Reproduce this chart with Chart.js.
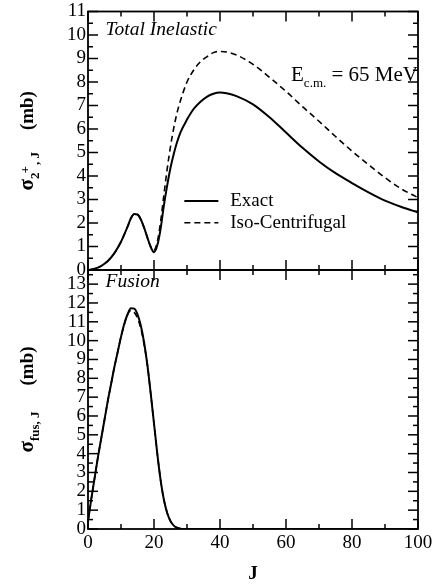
<!DOCTYPE html>
<html>
<head>
<meta charset="utf-8">
<script src="https://cdn.jsdelivr.net/npm/chart.js@4.4.1/dist/chart.umd.min.js"></script>
<style>
  html, body { margin: 0; background: #fff; }
  #wrap { position: relative; width: 439px; height: 586px; }
  #wrap canvas { position: absolute; left: 0; top: 0; }
</style>
</head>
<body>
<div id="wrap">
  <canvas id="inel" width="439" height="586"></canvas>
  <canvas id="fus" width="439" height="586"></canvas>
</div>
<script>
// total inelastic cross section per partial wave, E_cm = 65 MeV
const inelJ     = [0, 2, 4, 6, 8, 10, 12, 13, 14, 15, 16, 17, 18, 19, 20, 21, 22, 23, 24, 25, 26, 27, 28, 30, 32, 34, 36, 38, 40, 42, 45, 50, 55, 60, 65, 70, 75, 80, 85, 90, 95, 100];
const inelExact = [0, 0.05, 0.17, 0.38, 0.72, 1.2, 1.85, 2.2, 2.38, 2.36, 2.15, 1.8, 1.38, 0.98, 0.76, 1.05, 1.75, 2.75, 3.6, 4.35, 4.95, 5.45, 5.85, 6.4, 6.85, 7.15, 7.37, 7.5, 7.55, 7.52, 7.4, 7.05, 6.5, 5.85, 5.2, 4.62, 4.12, 3.7, 3.3, 2.95, 2.68, 2.45];
const inelIso   = [0, 0.05, 0.17, 0.38, 0.72, 1.2, 1.85, 2.2, 2.38, 2.36, 2.15, 1.8, 1.38, 1.0, 0.84, 1.2, 2.05, 3.2, 4.3, 5.25, 6.05, 6.7, 7.2, 8.0, 8.5, 8.85, 9.07, 9.25, 9.3, 9.28, 9.15, 8.75, 8.2, 7.6, 6.95, 6.33, 5.68, 5.06, 4.48, 3.93, 3.45, 3.08];

// fusion cross section per partial wave
const fusJ     = [0, 1, 2, 3, 4, 5, 6, 7, 8, 9, 10, 11, 12, 13, 14, 15, 16, 17, 18, 19, 20, 21, 22, 23, 24, 25, 26, 27, 28, 29, 30, 100];
const fusExact = [0.4, 1.6, 2.7, 3.8, 4.8, 5.8, 6.8, 7.7, 8.6, 9.4, 10.2, 10.9, 11.4, 11.72, 11.7, 11.4, 10.8, 9.9, 8.7, 7.2, 5.6, 4.0, 2.6, 1.55, 0.85, 0.42, 0.18, 0.07, 0.02, 0, 0, 0];
const fusIso   = [0.4, 1.6, 2.7, 3.8, 4.8, 5.8, 6.8, 7.7, 8.6, 9.4, 10.2, 10.85, 11.4, 11.6, 11.5, 11.2, 10.65, 9.8, 8.7, 7.2, 5.6, 4.0, 2.6, 1.55, 0.85, 0.42, 0.18, 0.07, 0.02, 0, 0, 0];

const xTicks = [0, 20, 40, 60, 80, 100];
const inelMax = 11;
const fusMax = 13.75;

const SERIF = '"Liberation Serif", "Times New Roman", serif';
const pts = (xs, ys) => xs.map((x, i) => ({ x, y: ys[i] }));

function lineSet(label, xs, ys, dashed) {
  return {
    label,
    data: pts(xs, ys),
    borderColor: '#000',
    borderWidth: dashed ? 1.6 : 2,
    borderDash: dashed ? [6, 4] : [],
    pointRadius: 0,
    fill: false,
    cubicInterpolationMode: 'monotone'
  };
}

// frame with inward ticks on all four sides
const frameTicks = {
  id: 'frameTicks',
  afterDatasetsDraw(chart) {
    const { ctx, chartArea: a, scales: { x, y } } = chart;
    const seg = (x1, y1, x2, y2) => { ctx.beginPath(); ctx.moveTo(x1, y1); ctx.lineTo(x2, y2); ctx.stroke(); };
    ctx.save();
    ctx.strokeStyle = '#000';
    ctx.lineWidth = 1.5;
    for (let v = x.min; v <= x.max + 1e-6; v += 10) {
      const px = x.getPixelForValue(v);
      const len = Math.abs(v % 20) < 1e-6 ? 10 : 5;
      seg(px, a.bottom, px, a.bottom - len);
      seg(px, a.top, px, a.top + len);
    }
    for (let v = 0; v <= y.max + 1e-6; v += 0.5) {
      const py = y.getPixelForValue(v);
      const len = Math.abs(v % 1) < 1e-6 ? 10 : 5;
      seg(a.left, py, a.left + len, py);
      seg(a.right, py, a.right - len, py);
    }
    ctx.lineWidth = 1.8;
    ctx.strokeRect(a.left, a.top, a.width, a.height);
    ctx.restore();
  }
};

// writes a run of text pieces, each with its own font and baseline shift
function runText(ctx, x, y, parts, align) {
  let total = 0;
  parts.forEach(p => { ctx.font = p.font; p.w = p.w != null ? p.w : ctx.measureText(p.t).width; total += p.w; });
  let cx = align === 'right' ? x - total : align === 'center' ? x - total / 2 : x;
  parts.forEach(p => {
    ctx.font = p.font;
    if (p.t) ctx.fillText(p.t, cx + (p.dx || 0), y + (p.dy || 0));
    cx += p.w;
  });
}

const notes = {
  id: 'notes',
  afterDraw(chart, args, opts) {
    const { ctx, chartArea: a, scales: { x, y } } = chart;
    ctx.save();
    ctx.fillStyle = '#000';
    ctx.strokeStyle = '#000';
    ctx.textBaseline = 'alphabetic';
    (opts.texts || []).forEach(t => {
      runText(ctx, x.getPixelForValue(t.x), y.getPixelForValue(t.y), t.parts, t.align);
    });
    (opts.keys || []).forEach(k => {
      const py = y.getPixelForValue(k.y);
      ctx.lineWidth = k.dashed ? 1.6 : 2;
      ctx.setLineDash(k.dashed ? [6, 4] : []);
      ctx.beginPath();
      ctx.moveTo(x.getPixelForValue(k.x0), py);
      ctx.lineTo(x.getPixelForValue(k.x1), py);
      ctx.stroke();
      ctx.setLineDash([]);
      ctx.font = '19px ' + SERIF;
      ctx.textBaseline = 'middle';
      ctx.fillText(k.label, x.getPixelForValue(k.tx), py);
      ctx.textBaseline = 'alphabetic';
    });
    if (opts.yTitle) {
      ctx.translate(opts.yTitleX, (a.top + a.bottom) / 2);
      ctx.rotate(-Math.PI / 2);
      runText(ctx, 0, 0, opts.yTitle, 'center');
      ctx.setTransform(1, 0, 0, 1, 0, 0);
    }
    if (opts.xTitle) {
      ctx.font = 'bold 19px ' + SERIF;
      ctx.textAlign = 'center';
      ctx.fillText(opts.xTitle, (a.left + a.right) / 2, a.bottom + 50);
    }
    ctx.restore();
  }
};

const tickFont = { family: SERIF, size: 19, lineHeight: 1 };

function yScale(max) {
  return {
    type: 'linear', min: 0, max,
    grid: { display: false, drawTicks: false },
    border: { display: false },
    ticks: { stepSize: 1, autoSkip: false, includeBounds: false, color: '#000', font: tickFont, padding: 2 },
    afterFit: s => { s.width = 88; }
  };
}

const B = 'bold 19px ' + SERIF;
const Bsub = 'bold 13px ' + SERIF;

new Chart(document.getElementById('inel'), {
  type: 'line',
  data: { datasets: [lineSet('Exact', inelJ, inelExact, false), lineSet('Iso-Centrifugal', inelJ, inelIso, true)] },
  options: {
    responsive: false, animation: false,
    layout: { padding: { top: 10, right: 21, bottom: 316, left: 0 } },
    plugins: {
      legend: { display: false }, tooltip: { enabled: false },
      notes: {
        texts: [
          { x: 5.3, y: 10.0, align: 'left', parts: [{ t: 'Total Inelastic', font: 'italic 19.5px ' + SERIF }] },
          { x: 100, y: 8.03, align: 'right', parts: [
            { t: 'E', font: '21px ' + SERIF },
            { t: 'c.m.', font: '13px ' + SERIF, dy: 6 },
            { t: ' = 65 MeV', font: '21px ' + SERIF }
          ] }
        ],
        keys: [
          { x0: 29.2, x1: 39.5, tx: 43.1, y: 2.94, label: 'Exact', dashed: false },
          { x0: 29.2, x1: 39.5, tx: 43.1, y: 2.01, label: 'Iso-Centrifugal', dashed: true }
        ],
        yTitleX: 33,
        yTitle: [
          { t: 'σ', font: 'bold 21px ' + SERIF },
          { t: '2', font: Bsub, dy: 6 },
          { t: '+', font: Bsub, dy: -4, dx: -1 },
          { t: ', J', font: Bsub, dy: 6 },
          { t: '', font: B, w: 22 },
          { t: '(mb)', font: B }
        ]
      }
    },
    scales: {
      x: { type: 'linear', min: 0, max: 100, display: false },
      y: yScale(inelMax)
    }
  },
  plugins: [frameTicks, notes]
});

new Chart(document.getElementById('fus'), {
  type: 'line',
  data: { datasets: [lineSet('Exact', fusJ, fusExact, false), lineSet('Iso-Centrifugal', fusJ, fusIso, true)] },
  options: {
    responsive: false, animation: false,
    layout: { padding: { top: 270, right: 21, bottom: 0, left: 0 } },
    plugins: {
      legend: { display: false }, tooltip: { enabled: false },
      notes: {
        texts: [
          { x: 5.3, y: 12.84, align: 'left', parts: [{ t: 'Fusion', font: 'italic 19.5px ' + SERIF }] }
        ],
        yTitleX: 33,
        yTitle: [
          { t: 'σ', font: 'bold 21px ' + SERIF },
          { t: 'fus, J', font: Bsub, dy: 6 },
          { t: '', font: B, w: 26 },
          { t: '(mb)', font: B }
        ],
        xTitle: 'J'
      }
    },
    scales: {
      x: {
        type: 'linear', min: 0, max: 100,
        grid: { display: false, drawTicks: false },
        border: { display: false },
        afterBuildTicks: s => { s.ticks = xTicks.map(v => ({ value: v })); },
        ticks: { autoSkip: false, maxRotation: 0, color: '#000', font: tickFont, padding: 5 },
        afterFit: s => { s.height = 57; }
      },
      y: yScale(fusMax)
    }
  },
  plugins: [frameTicks, notes]
});
</script>
</body>
</html>
